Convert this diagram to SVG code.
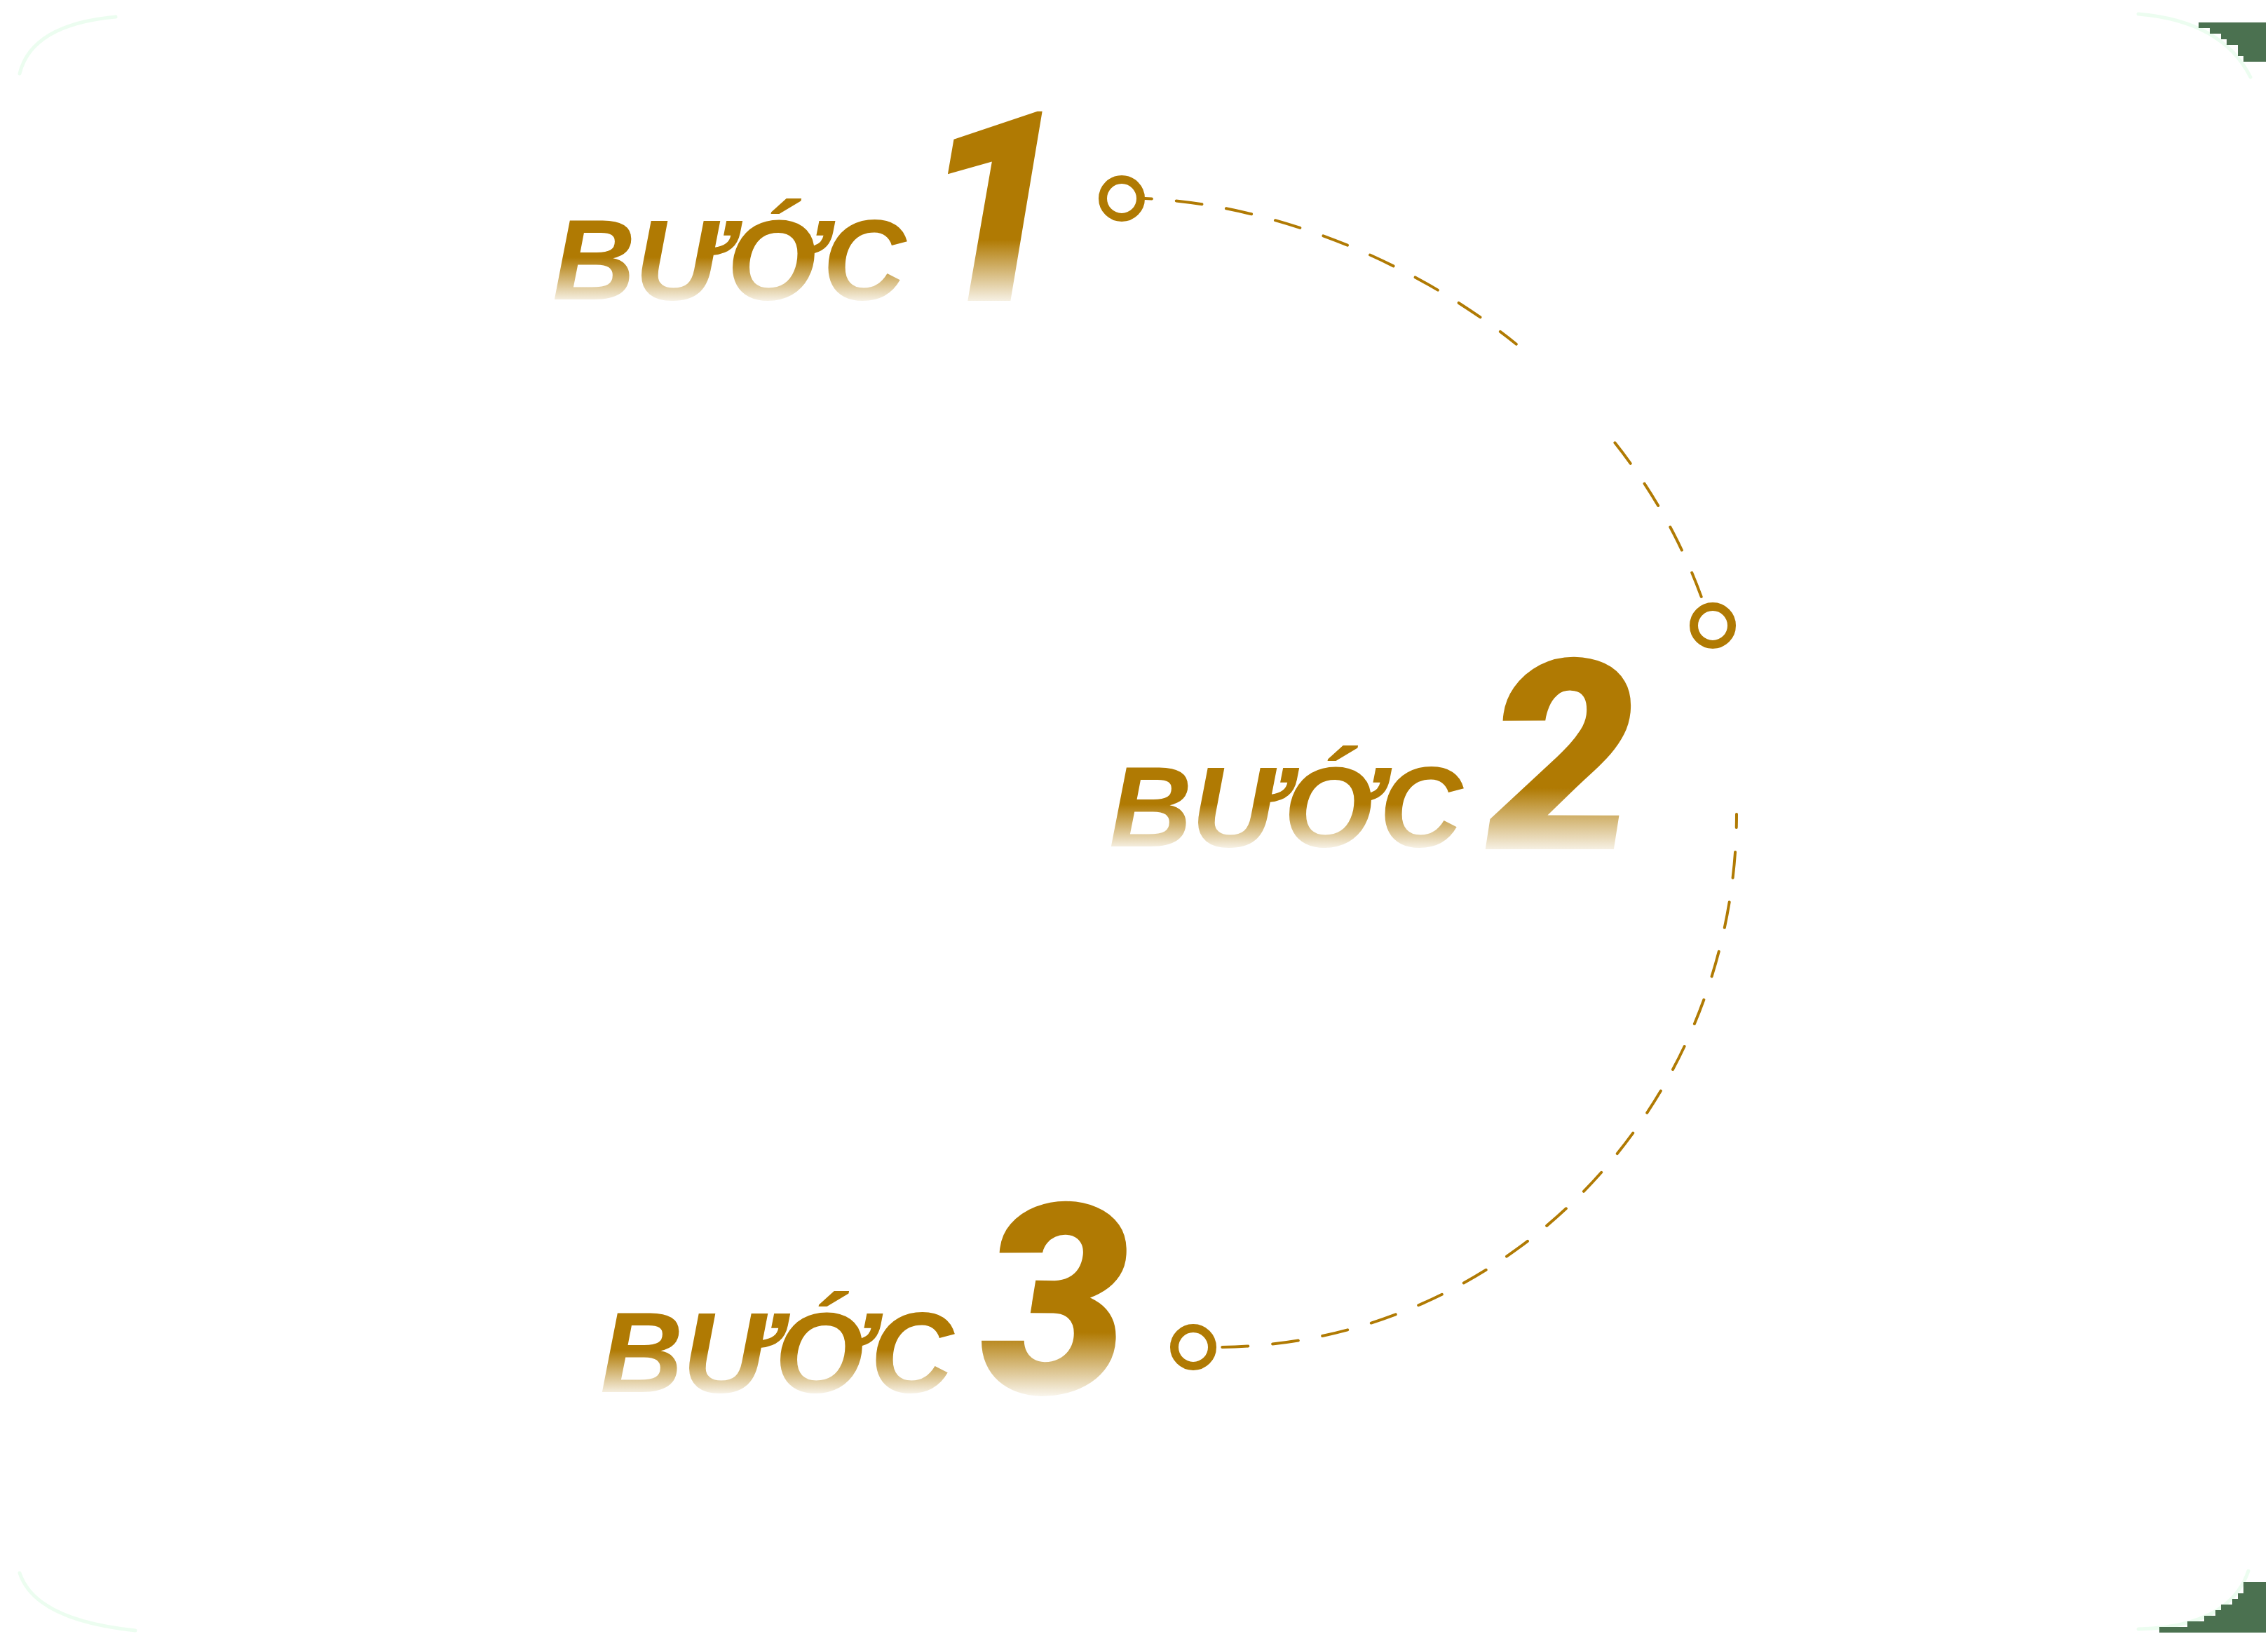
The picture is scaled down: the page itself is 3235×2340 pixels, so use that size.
<svg xmlns="http://www.w3.org/2000/svg" width="3235" height="2340" viewBox="0 0 3235 2340">
<style>
.word{font-family:"Liberation Sans",Arial,sans-serif;font-weight:700;font-style:italic;font-size:164px;letter-spacing:-1px}
.num{font-family:Roboto,"Liberation Sans",Arial,sans-serif;font-weight:900;font-style:italic;font-size:380px}
.dash{fill:none;stroke:#B07A03;stroke-width:4;stroke-linecap:round;stroke-dasharray:37 35}
.ring{fill:none;stroke:#B07A03;stroke-width:12}
.glow{fill:none;stroke:#DDFBE4;stroke-width:5;stroke-linecap:round;opacity:0.55}
.stair{fill:#4B7150}
</style>
<defs>
<linearGradient id="gw1" gradientUnits="userSpaceOnUse" x1="0" y1="367" x2="0" y2="432"><stop offset="0" stop-color="#B07A03"/><stop offset="1" stop-color="#B07A03" stop-opacity="0.06"/></linearGradient>
<linearGradient id="gn1" gradientUnits="userSpaceOnUse" x1="0" y1="342" x2="0" y2="434"><stop offset="0" stop-color="#B07A03"/><stop offset="1" stop-color="#B07A03" stop-opacity="0.06"/></linearGradient>
<linearGradient id="gw2" gradientUnits="userSpaceOnUse" x1="0" y1="1147" x2="0" y2="1212"><stop offset="0" stop-color="#B07A03"/><stop offset="1" stop-color="#B07A03" stop-opacity="0.06"/></linearGradient>
<linearGradient id="gn2" gradientUnits="userSpaceOnUse" x1="0" y1="1124" x2="0" y2="1216"><stop offset="0" stop-color="#B07A03"/><stop offset="1" stop-color="#B07A03" stop-opacity="0.06"/></linearGradient>
<linearGradient id="gw3" gradientUnits="userSpaceOnUse" x1="0" y1="1925" x2="0" y2="1990"><stop offset="0" stop-color="#B07A03"/><stop offset="1" stop-color="#B07A03" stop-opacity="0.06"/></linearGradient>
<linearGradient id="gn3" gradientUnits="userSpaceOnUse" x1="0" y1="1900" x2="0" y2="1992"><stop offset="0" stop-color="#B07A03"/><stop offset="1" stop-color="#B07A03" stop-opacity="0.06"/></linearGradient>
</defs>
<rect width="3235" height="2340" fill="#FFFFFF"/>
<g id="frame">
<path class="glow" d="M28 105 Q45 35 165 24"/>
<path class="glow" d="M3050 20 Q3170 30 3210 110"/>
<path class="glow" d="M28 2243 Q50 2310 193 2325"/>
<path class="glow" d="M3207 2240 Q3180 2320 3050 2323"/>
<path class="stair" d="M3136 32 H3232 V88 H3200 V80 H3192 V64 H3176 V56 H3168 V48 H3152 V40 H3136 Z"/>
<path class="stair" d="M3200 2256 H3232 V2328 H3080 V2320 H3120 V2312 H3144 V2304 H3160 V2296 H3168 V2288 H3184 V2280 H3192 V2272 H3200 Z"/>
</g>
<g id="connectors">
<path class="dash" stroke-dashoffset="27" d="M1633 283 C1794.6 290.1 1996 357.4 2162.8 490.7"/>
<path class="dash" d="M2303.4 631.3 C2357.1 699.1 2401.7 777.2 2432 866"/>
<path class="dash" stroke-dashoffset="18" d="M2477 1161 A742 761 0 0 1 1733 1921"/>
</g>
<g id="step1">
<text class="word" x="788" y="427" fill="url(#gw1)">BƯỚC</text>
<text class="num" x="1310" y="429" fill="url(#gn1)">1</text>
<circle class="ring" cx="1600" cy="283" r="27"/>
</g>
<g id="step2">
<text class="word" x="1582" y="1207" fill="url(#gw2)">BƯỚC</text>
<text class="num" x="2120" y="1211" fill="url(#gn2)">2</text>
<circle class="ring" cx="2443" cy="892" r="27"/>
</g>
<g id="step3">
<text class="word" x="856" y="1985" fill="url(#gw3)">BƯỚC</text>
<text class="num" x="1398" y="1987" fill="url(#gn3)">3</text>
<circle class="ring" cx="1702" cy="1921" r="27"/>
</g>
</svg>
